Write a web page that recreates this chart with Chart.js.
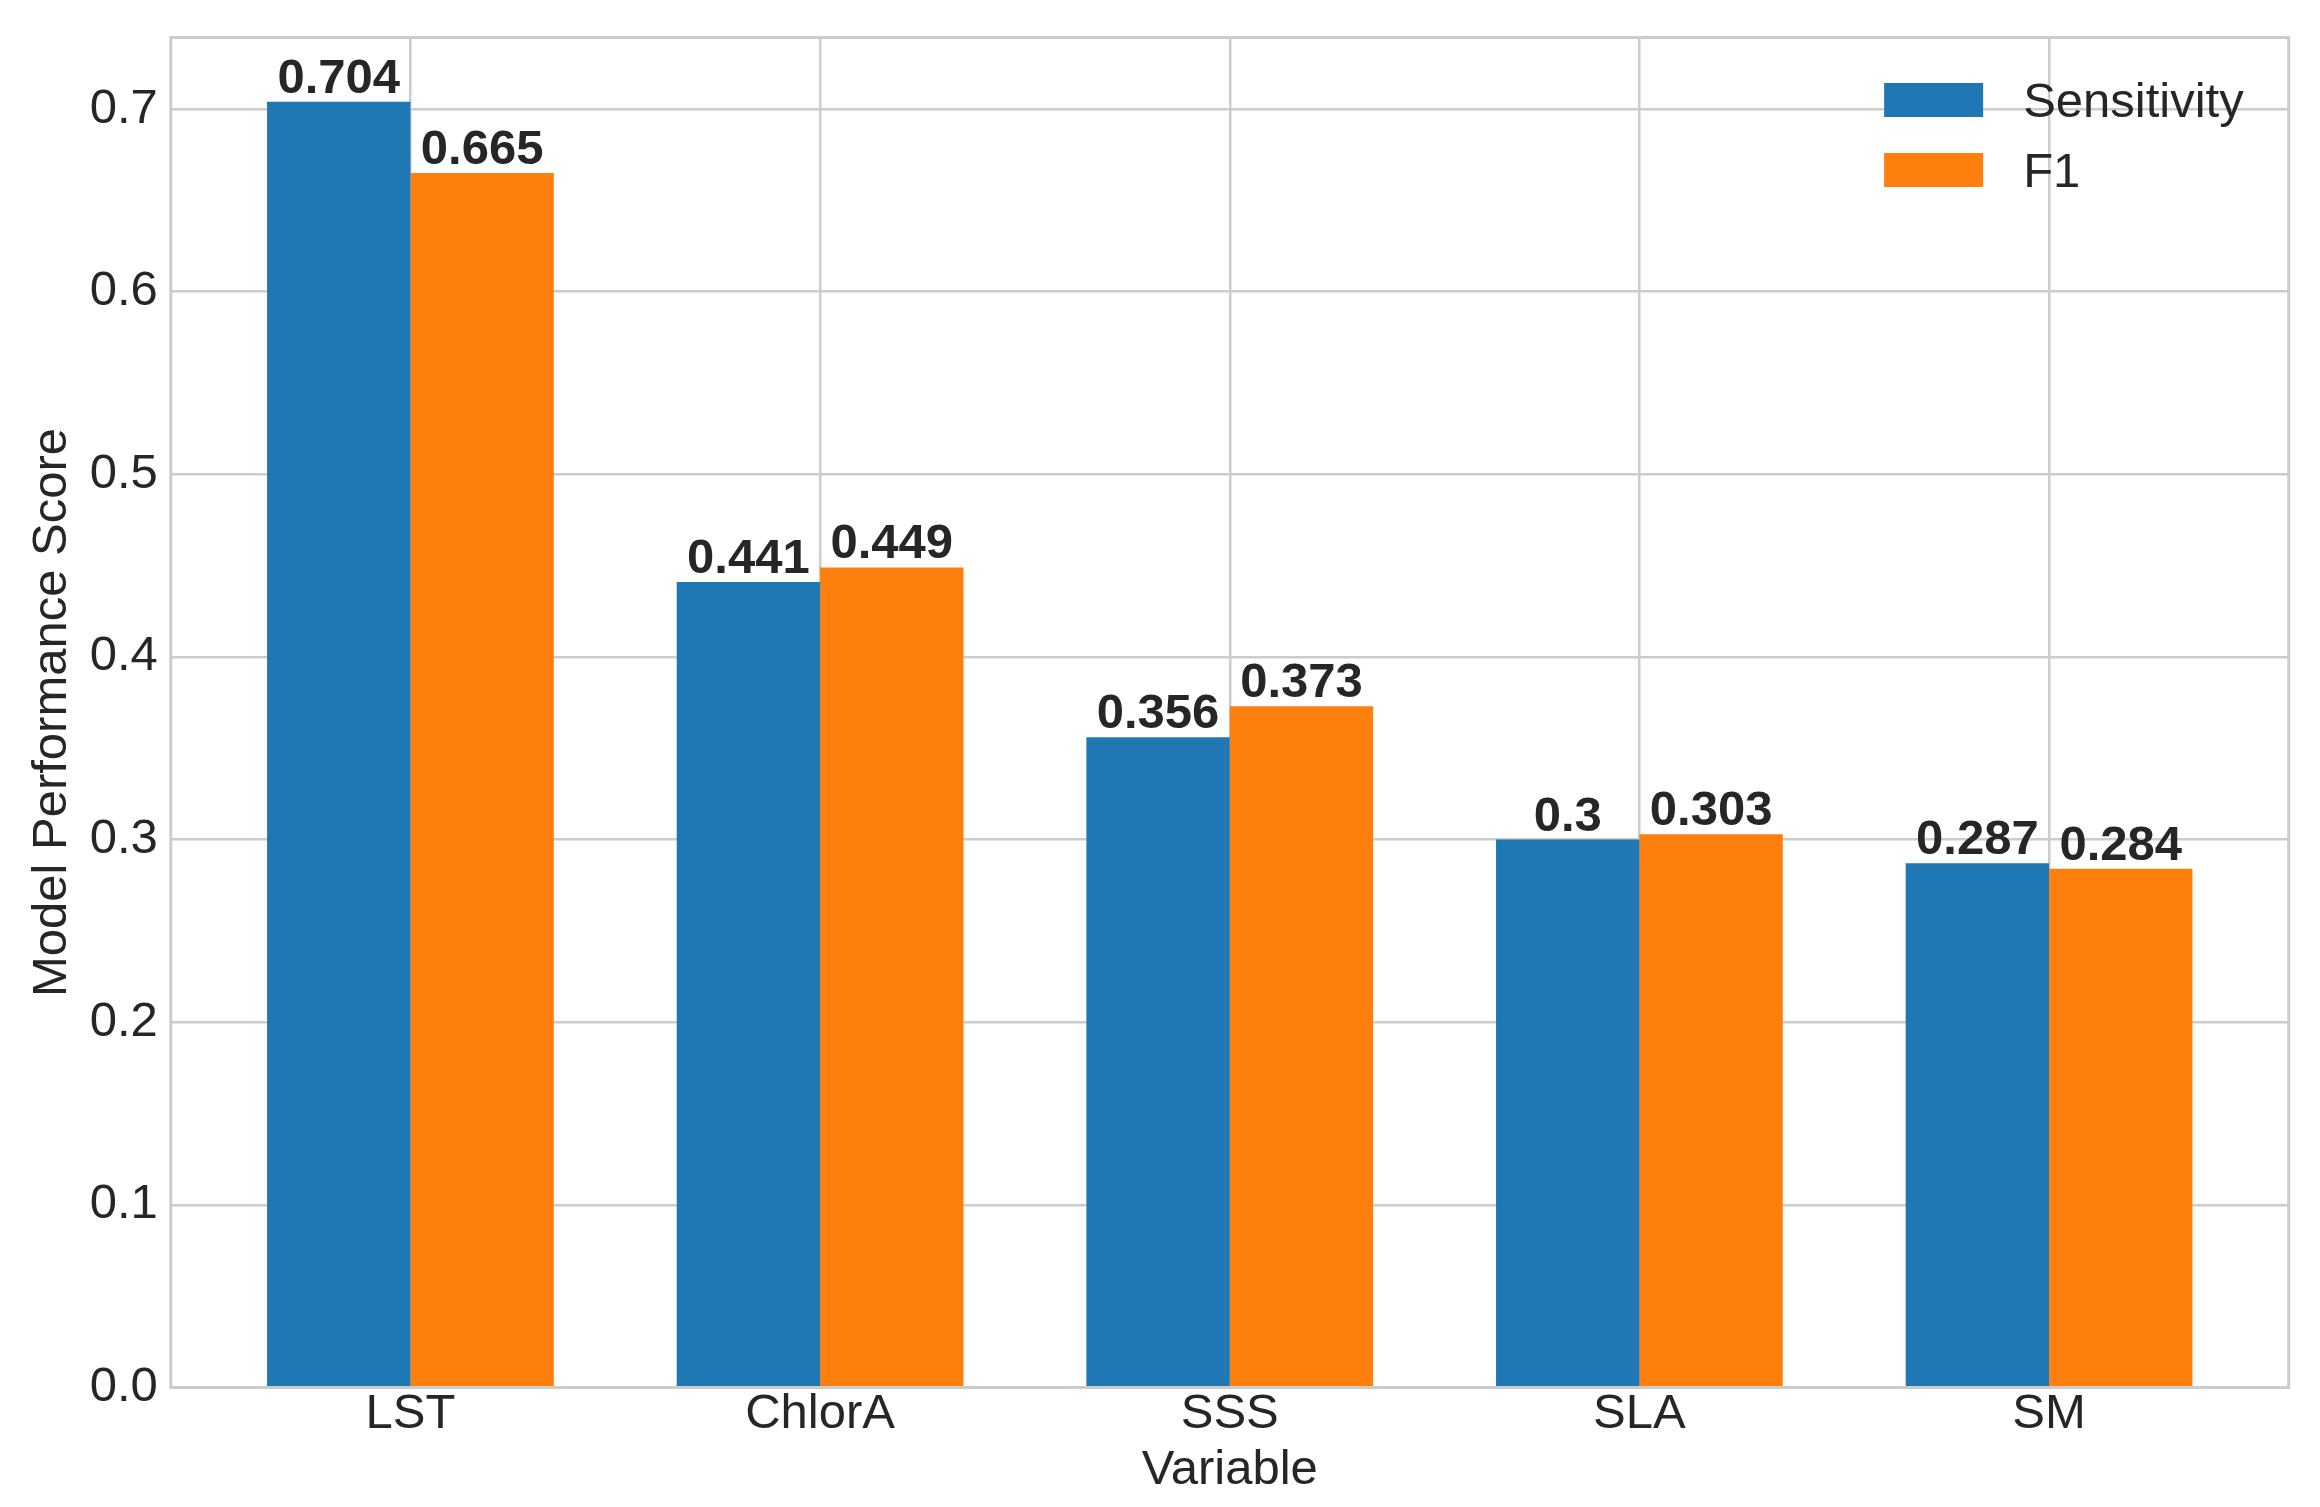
<!DOCTYPE html>
<html>
<head>
<meta charset="utf-8">
<script src="https://cdn.jsdelivr.net/npm/chart.js@4.4.1/dist/chart.umd.min.js"></script>
<style>
  html, body { margin: 0; padding: 0; background: #ffffff; }
  #wrap { width: 2320px; height: 1507px; }
  canvas { display: block; }
</style>
</head>
<body>
<div id="wrap"><canvas id="c" width="2320" height="1507"></canvas></div>
<script>
// ---- data ----
const categories = ['LST', 'ChlorA', 'SSS', 'SLA', 'SM'];
const sensitivity = [0.704, 0.441, 0.356, 0.3, 0.287];
const f1 = [0.665, 0.449, 0.373, 0.303, 0.284];
const yTickValues = [0.0, 0.1, 0.2, 0.3, 0.4, 0.5, 0.6, 0.7];
const seriesNames = ['Sensitivity', 'F1'];
const seriesColors = ['#1f77b4', '#ff7f0e'];
const xTitle = 'Variable';
const yTitle = 'Model Performance Score';

// ---- style ----
const FONT = '"Liberation Sans", Arial, sans-serif';
const FS = 49;
const TEXT = '#262626';
const GRID = '#cccccc';

Chart.defaults.font.family = FONT;
Chart.defaults.font.size = FS;
Chart.defaults.color = TEXT;

const barHalf = 0.35;
const yMax = Math.max(...sensitivity, ...f1) * 1.05;
const xMargin = 0.05 * ((categories.length - 1) + 2 * barHalf);
const xMin = -barHalf - xMargin;
const xMax = (categories.length - 1) + barHalf + xMargin;

const framePlugin = {
  id: 'frameLabelsLegend',
  afterDatasetsDraw(chart) {
    const ctx = chart.ctx;
    const a = chart.chartArea;
    ctx.save();
    // frame (spines)
    ctx.strokeStyle = GRID;
    ctx.lineWidth = 3;
    ctx.strokeRect(a.left, a.top, a.right - a.left, a.bottom - a.top);

    // value labels
    ctx.fillStyle = TEXT;
    ctx.font = 'bold ' + FS + 'px ' + FONT;
    ctx.textAlign = 'center';
    ctx.textBaseline = 'alphabetic';
    chart.data.datasets.forEach((ds, di) => {
      const meta = chart.getDatasetMeta(di);
      meta.data.forEach((el, i) => {
        const v = ds.data[i].y;
        ctx.fillText(String(v), el.x, el.y - 9);
      });
    });

    // legend (upper right, inside axes)
    ctx.font = FS + 'px ' + FONT;
    ctx.textAlign = 'left';
    const names = chart.data.datasets.map(d => d.label);
    const maxW = Math.max(...names.map(n => ctx.measureText(n).width));
    const textX = a.right - 45 - maxW;
    const patchW = 99, patchH = 34, gap = 40;
    const patchX = textX - gap - patchW;
    names.forEach((n, i) => {
      const cy = a.top + 62.5 + i * 70;
      ctx.fillStyle = chart.data.datasets[i].backgroundColor;
      ctx.fillRect(patchX, cy - patchH / 2, patchW, patchH);
      ctx.fillStyle = TEXT;
      ctx.fillText(n, textX, cy + 17);
    });
    ctx.restore();
  }
};

new Chart(document.getElementById('c'), {
  type: 'bar',
  data: {
    datasets: [
      {
        label: seriesNames[0],
        data: categories.map((c, i) => ({ x: i, y: sensitivity[i] })),
        backgroundColor: seriesColors[0],
        borderWidth: 0,
        categoryPercentage: 2 * barHalf,
        barPercentage: 1.0
      },
      {
        label: seriesNames[1],
        data: categories.map((c, i) => ({ x: i, y: f1[i] })),
        backgroundColor: seriesColors[1],
        borderWidth: 0,
        categoryPercentage: 2 * barHalf,
        barPercentage: 1.0
      }
    ]
  },
  options: {
    responsive: false,
    animation: false,
    devicePixelRatio: 1,
    layout: { padding: { top: 37.5, right: 31.3, left: 0, bottom: 0 } },
    plugins: {
      legend: { display: false },
      tooltip: { enabled: false }
    },
    scales: {
      x: {
        type: 'linear',
        min: xMin,
        max: xMax,
        offset: false,
        afterBuildTicks: (s) => { s.ticks = categories.map((c, i) => ({ value: i })); },
        afterFit: (s) => { s.height = 119.5; },
        grid: { color: GRID, lineWidth: 2.5, drawTicks: false, offset: false },
        border: { display: false },
        ticks: {
          autoSkip: false,
          maxRotation: 0,
          minRotation: 0,
          padding: 2,
          font: { size: FS, lineHeight: 1 },
          color: TEXT,
          callback: (v) => categories[v]
        },
        title: {
          display: true,
          text: xTitle,
          color: TEXT,
          font: { size: FS, lineHeight: 1 },
          padding: { top: 0, bottom: 12 }
        }
      },
      y: {
        type: 'linear',
        min: 0,
        max: yMax,
        afterBuildTicks: (s) => { s.ticks = yTickValues.map(v => ({ value: v })); },
        afterFit: (s) => { s.width = 170.8; },
        grid: { color: GRID, lineWidth: 2.5, drawTicks: false },
        border: { display: false },
        ticks: {
          padding: 13,
          font: { size: FS, lineHeight: 1 },
          color: TEXT,
          callback: (v) => Number(v).toFixed(1)
        },
        title: {
          display: true,
          text: yTitle,
          color: TEXT,
          font: { size: FS, lineHeight: 1 },
          padding: { top: 28.4, bottom: 0 }
        }
      }
    }
  },
  plugins: [framePlugin]
});
</script>
</body>
</html>
